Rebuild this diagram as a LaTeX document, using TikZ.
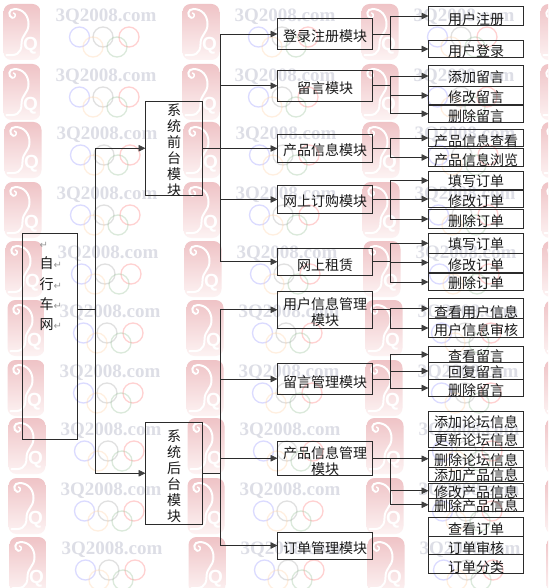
\documentclass[tikz,border=0pt]{standalone}
\usepackage{fontspec}
\setmainfont{Noto Sans CJK SC}
\newfontfamily\symfont{DejaVu Sans}
\newfontfamily\wmfont{Liberation Serif}
\newfontfamily\qfont{Liberation Sans}
\usetikzlibrary{arrows.meta}
\definecolor{lineC}{HTML}{2B2B2B}
\definecolor{sealTop}{HTML}{EFC3C6}
\definecolor{sealBot}{HTML}{FDF3F3}
\definecolor{wmText}{HTML}{DDDEE6}
\tikzset{
  x=1pt,y=-1pt,
  boxn/.style={draw=lineC,line width=0.8pt,inner sep=0pt,outer sep=0pt},
  txt/.style={font=\fontsize{14}{16}\selectfont,text=black!90,align=center,inner sep=0pt},
  conn/.style={draw=lineC,line width=0.8pt},
  arr/.style={conn,-{Triangle[length=7pt,width=6.5pt,color=lineC!90]}},
  ring/.style={line width=1.3pt,opacity=.4},
}
% name, x0, x1, y0, y1, ytext, text
\newcommand{\bx}[7]{%
  \pgfmathsetmacro\cxx{(#2+#3)/2}%
  \pgfmathsetmacro\cyy{(#4+#5)/2}%
  \pgfmathsetmacro\ww{#3-#2}%
  \pgfmathsetmacro\hh{#5-#4}%
  \pgfmathsetmacro\ts{\cyy-(#6)}%
  \node[boxn,minimum width=\ww pt,minimum height=\hh pt,
        label={[txt,yshift=\ts pt]center:{#7}}] (#1) at (\cxx,\cyy) {};%
}
\newcommand{\leafb}[5]{\bx{#1}{428.5}{523.5}{#2}{#3}{#4}{#5}}
\newcommand{\modb}[5]{\bx{#1}{277.5}{372.5}{#2}{#3}{#4}{#5}}
\newcommand{\sealmark}[2]{%
  \begin{scope}[shift={(#1,#2)}]
    \shade[top color=sealTop,bottom color=sealBot,rounded corners=8pt] (0,0) rectangle (37,56);
    \draw[white,line width=2pt,line cap=round]
      (9,14) .. controls (4,12) and (5,5) .. (11,5) .. controls (20,5) and (25,12) .. (25,20)
      .. controls (25,30) and (18,30) .. (18,40) .. controls (18,50) and (12,52) .. (3,51);
    \draw[white,line width=1.5pt,line cap=round]
      (9,14) .. controls (12,14) and (13,10) .. (10,9);
  \end{scope}%
}
\newcommand{\wmark}[2]{%
  \sealmark{#1}{#2}%
  \begin{scope}[shift={(#1,#2)}]
    \node[text=white,font=\qfont\bfseries\fontsize{19}{19}\selectfont,inner sep=0pt] at (27,42) {Q};
    \node[text=wmText,font=\wmfont\bfseries\fontsize{19}{19}\selectfont,inner sep=0pt] at (102.5,13) {3Q2008.com};
    \draw[ring,draw=blue!35] (76,33) circle (10);
    \draw[ring,draw=black!30] (99.5,33) circle (10);
    \draw[ring,draw=red!45] (125.5,33) circle (10);
    \draw[ring,draw=orange!30] (89.5,43) circle (10);
    \draw[ring,draw=green!40!black!35] (113.5,43) circle (10);
  \end{scope}%
}
\begin{document}
\begin{tikzpicture}
\useasboundingbox (0,0) rectangle (548,588);
\fill[white] (0,0) rectangle (548,588);
\begin{scope}
  \clip (0,0) rectangle (548,588);
  \foreach \rx/\ry in {3.5/4,3.5/64,4.5/122,4.5/182,5.5/241,7.5/300,7.5/360,8.5/418,8.5/478,9.5/537}{
    \foreach \cc in {0,179,358}{
      \pgfmathsetmacro\wx{\rx+\cc}
      \wmark{\wx}{\ry}
    }
    \pgfmathsetmacro\wx{\rx+537}
    \sealmark{\wx}{\ry}
  }
\end{scope}

% main boxes
\node[boxn,minimum width=55pt,minimum height=206.5pt] (root) at (49.5,336.25) {};
\node[anchor=north west,align=left,inner sep=0pt,text=black!90,font=\fontsize{14}{20.4}\selectfont] (roottext) at (39.5,236)
  {\rule{0pt}{12pt}{\symfont\fontsize{10}{10}\selectfont\color{black!40}↵}\\
   自{\symfont\fontsize{10}{10}\selectfont\color{black!40}↵}\\
   行{\symfont\fontsize{10}{10}\selectfont\color{black!40}↵}\\
   车{\symfont\fontsize{10}{10}\selectfont\color{black!40}↵}\\
   网{\symfont\fontsize{10}{10}\selectfont\color{black!40}↵}};
\bx{front}{145.5}{202.5}{101}{195.5}{150.5}{系\\统\\前\\台\\模\\块}
\bx{back}{145.5}{202.5}{422}{524.5}{476}{系\\统\\后\\台\\模\\块}

% modules
\modb{m1}{18.5}{49.5}{36}{登录注册模块}
\modb{m2}{70}{101.5}{88.5}{留言模块}
\modb{m3}{134.5}{162.5}{150.5}{产品信息模块}
\modb{m4}{185.5}{213.5}{201.5}{网上订购模块}
\modb{m5}{248}{275.5}{265}{网上租赁}
\modb{m6}{291}{328.5}{312}{用户信息管理\\模块}
\modb{m7}{363.5}{394.5}{382}{留言管理模块}
\modb{m8}{441}{475.5}{461}{产品信息管理\\模块}
\modb{m9}{532}{559}{548}{订单管理模块}

% leaves
\leafb{a1}{6.5}{25.5}{19}{用户注册}
\leafb{a2}{40.5}{57.5}{51}{用户登录}
\leafb{b1}{65.5}{86.5}{77.5}{添加留言}
\leafb{b2}{86.5}{104.5}{97}{修改留言}
\leafb{b3}{105}{122.5}{116}{删除留言}
\leafb{c1}{129.5}{146.5}{141}{产品信息查看}
\leafb{c2}{148.5}{166.5}{160.5}{产品信息浏览}
\leafb{d1}{171.5}{189.5}{181.5}{填写订单}
\leafb{d2}{190.5}{207.5}{201}{修改订单}
\leafb{d3}{209.5}{228.5}{221}{删除订单}
\leafb{e1}{233.5}{253}{244.5}{填写订单}
\leafb{e2}{253}{272}{265}{修改订单}
\leafb{e3}{273.5}{290.5}{283.5}{删除订单}
\leafb{f1}{298.5}{318.5}{312}{查看用户信息}
\leafb{f2}{318.5}{337.5}{330.5}{用户信息审核}
\leafb{g1}{346.5}{362.5}{356}{查看留言}
\leafb{g2}{362.5}{379.5}{372.5}{回复留言}
\leafb{g3}{379.5}{396.5}{390}{删除留言}
\leafb{h1}{411.5}{431}{422.5}{添加论坛信息}
\leafb{h2}{431}{447.5}{440.5}{更新论坛信息}
\leafb{h3}{450}{467.5}{460}{删除论坛信息}
\leafb{h4}{467.5}{481}{475}{添加产品信息}
\leafb{h5}{483.5}{498}{492}{修改产品信息}
\leafb{h6}{498}{511.5}{506}{删除产品信息}
\leafb{k1}{517.5}{536.5}{529}{查看订单}
\leafb{k2}{536.5}{554.5}{548}{订单审核}
\leafb{k3}{554.5}{573}{567}{订单分类}

% connectors: root
\coordinate (rj) at (95.5,309.3);
\draw[conn] (root.east |- rj) -- (rj);
\draw[arr] (rj) |- (front.west);
\draw[arr] (rj) |- (back.west);

% front / back to modules
\foreach \m in {m1,m2,m3,m4,m5}{
  \draw[arr] (front.east) -- ++(18,0) |- (\m.west);
}
\foreach \m in {m6,m7,m8,m9}{
  \draw[arr] (back.east) -- ++(18,0) |- (\m.west);
}

% modules to leaves
\foreach \m/\l in {m1/a1,m1/a2,m2/b1,m2/b2,m2/b3,m3/c1,m3/c2,m4/d1,m4/d2,m4/d3,
                   m5/e1,m5/e2,m5/e3,m6/f1,m6/f2,m7/g1,m7/g2,m7/g3,m8/h3,m8/h5,m8/h6}{
  \draw[arr] (\m.east) -- ++(18,0) |- (\l.west);
}
\end{tikzpicture}
\end{document}
